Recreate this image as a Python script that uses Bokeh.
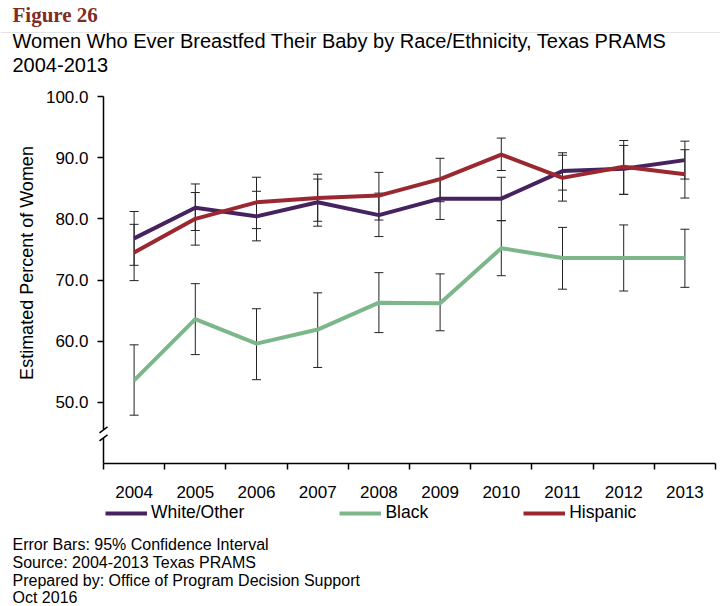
from bokeh.plotting import figure
from bokeh.models import (ColumnDataSource, Range1d, FixedTicker, NumeralTickFormatter,
                          Whisker, TeeHead, Legend, LegendItem, Label, Arrow, Span)
from bokeh.embed import file_html
from bokeh.resources import INLINE

# ---------------- data ----------------
years = [2004, 2005, 2006, 2007, 2008, 2009, 2010, 2011, 2012, 2013]
year_labels = ["2004", "2005", "2006", "2007", "2008", "2009", "2010", "2011", "2012", "2013"]

white = [76.8, 81.8, 80.4, 82.7, 80.6, 83.3, 83.3, 87.8, 88.2, 89.6]
white_lo = [72.4, 78.1, 76.4, 78.8, 77.1, 79.9, 79.7, 84.7, 84.0, 86.5]
white_hi = [81.2, 85.7, 84.5, 86.5, 84.2, 86.6, 86.8, 90.8, 92.0, 92.7]

black = [53.6, 63.6, 59.6, 61.9, 66.3, 66.2, 75.2, 73.6, 73.6, 73.6]
black_lo = [47.9, 57.8, 53.7, 55.7, 61.4, 61.7, 70.7, 68.5, 68.2, 68.8]
black_hi = [59.4, 69.4, 65.3, 67.9, 71.2, 71.0, 79.7, 78.6, 79.0, 78.3]

hispanic = [74.5, 80.0, 82.7, 83.4, 83.8, 86.5, 90.5, 86.7, 88.5, 87.3]
hispanic_lo = [69.9, 75.7, 78.4, 79.6, 79.8, 82.8, 87.9, 82.9, 84.0, 83.4]
hispanic_hi = [79.1, 84.3, 86.8, 87.3, 87.6, 89.9, 93.2, 90.4, 92.8, 91.3]

y_ticks = [50, 60, 70, 80, 90, 100]

# ---------------- layout constants (pixels) ----------------
W, H = 720, 606
FL, FT, FB, FR = 103, 96, 143, 5          # plot-area margins inside the canvas
AREA_W = W - FL - FR
AREA_H = H - FT - FB
X0, X1 = years[0] - 0.5, years[-1] + 0.5
Y0, Y1 = 40, 100
BREAK_TOP, BREAK_BOTTOM = 45.5, 44.2

ppx = AREA_W / (X1 - X0)   # pixels per year
ppy = AREA_H / (Y1 - Y0)   # pixels per percent

PURPLE = "#46235f"
GREEN = "#7cb78b"
RED = "#9b2830"
BROWN = "#7e2d1e"
SANS = "Liberation Sans"

p = figure(width=W, height=H, output_backend="svg", toolbar_location=None,
           x_range=Range1d(X0 - FL / ppx, X1 + FR / ppx),
           y_range=Range1d(Y0 - FB / ppy, Y1 + FT / ppy),
           min_border=0)
p.outline_line_color = None
p.grid.visible = False
p.background_fill_color = "white"
p.border_fill_color = "white"

src = ColumnDataSource(dict(year=years, white=white, white_lo=white_lo, white_hi=white_hi,
                            black=black, black_lo=black_lo, black_hi=black_hi,
                            hispanic=hispanic, hispanic_lo=hispanic_lo, hispanic_hi=hispanic_hi))

# thin rule under the figure number
p.add_layout(Span(location=Y1 + (FT - 32) / ppy, dimension="width",
                  line_color="#e4e4e4", line_width=1))

# error bars
for lo, hi in [("white_lo", "white_hi"), ("black_lo", "black_hi"), ("hispanic_lo", "hispanic_hi")]:
    w = Whisker(source=src, base="year", lower=lo, upper=hi, line_color="#222222", line_width=1,
                upper_head=TeeHead(size=9, line_color="#222222", line_width=1),
                lower_head=TeeHead(size=9, line_color="#222222", line_width=1))
    p.add_layout(w)

r_black = p.line("year", "black", source=src, line_color=GREEN, line_width=4)
r_white = p.line("year", "white", source=src, line_color=PURPLE, line_width=4)
r_hisp = p.line("year", "hispanic", source=src, line_color=RED, line_width=4)

# x axis
xa = p.xaxis[0]
xa.fixed_location = Y0
xa.bounds = (X0, X1)
xa.ticker = FixedTicker(ticks=years, minor_ticks=[y - 0.5 for y in years] + [years[-1] + 0.5])
xa.major_label_overrides = {y: l for y, l in zip(years, year_labels)}
xa.major_tick_out = 0
xa.major_tick_in = 0
xa.minor_tick_out = 6
xa.minor_tick_in = 0
xa.minor_tick_line_color = "black"
xa.minor_tick_line_width = 1.5
xa.axis_line_color = "black"
xa.axis_line_width = 1.5
xa.major_label_standoff = 16
xa.major_label_text_font = SANS
xa.major_label_text_font_size = "17px"
xa.major_label_text_color = "black"

# y axis
ya = p.yaxis[0]
ya.fixed_location = X0
ya.ticker = FixedTicker(ticks=y_ticks)
ya.formatter = NumeralTickFormatter(format="0.0")
ya.bounds = (BREAK_TOP, Y1)
ya.major_tick_out = 6
ya.major_tick_in = 0
ya.major_tick_line_width = 1.5
ya.minor_tick_line_color = None
ya.axis_line_color = "black"
ya.axis_line_width = 1.5
ya.major_label_standoff = 9
ya.major_label_text_font = SANS
ya.major_label_text_font_size = "17px"
ya.major_label_text_color = "black"
ya.axis_label = "Estimated Percent of Women"
ya.axis_label_text_font = SANS
ya.axis_label_text_font_size = "18px"
ya.axis_label_text_font_style = "normal"
ya.axis_label_text_color = "black"
ya.axis_label_standoff = 6

# axis break: lower stub of the y axis and two slashes
p.add_layout(Arrow(end=None, x_start=X0, y_start=Y0, x_end=X0, y_end=BREAK_BOTTOM,
                   line_color="black", line_width=1.5))
for yb in (BREAK_TOP, BREAK_BOTTOM):
    p.add_layout(Arrow(end=None, x_start=X0 - 4 / ppx, y_start=yb - 3 / ppy,
                       x_end=X0 + 4 / ppx, y_end=yb + 3 / ppy,
                       line_color="black", line_width=1.5))

# legend (frame covers the whole canvas, so screen units = canvas pixels from bottom-left)
legend = Legend(items=[LegendItem(label="White/Other", renderers=[r_white]),
                       LegendItem(label="Black", renderers=[r_black]),
                       LegendItem(label="Hispanic", renderers=[r_hisp])],
                orientation="horizontal", location=(FL + 2, H - 523), spacing=95,
                glyph_width=42, glyph_height=20, label_height=20, label_standoff=4,
                label_text_font=SANS, label_text_font_size="17.5px", label_text_color="black",
                padding=5, margin=0, border_line_color=None, background_fill_alpha=0)
p.add_layout(legend, "center")


def text_at(txt, cx, cy, size, font=SANS, color="black", style="normal"):
    p.add_layout(Label(x=cx, y=H - cy, x_units="screen", y_units="screen",
                       text=txt, text_font=font, text_font_size=size, text_color=color,
                       text_font_style=style, text_baseline="middle", text_align="left"))


text_at("Figure 26", 12, 14, "21px", font="Liberation Serif", color=BROWN, style="bold")
text_at("Women Who Ever Breastfed Their Baby by Race/Ethnicity, Texas PRAMS", 12, 40, "20px")
text_at("2004-2013", 12, 64, "20px")
text_at("Error Bars: 95% Confidence Interval", 12, 544, "16px")
text_at("Source: 2004-2013 Texas PRAMS", 12, 562, "16px")
text_at("Prepared by: Office of Program Decision Support", 12, 580, "16px")
text_at("Oct 2016", 12, 597, "16px")

open("out.html", "w").write(file_html(p, INLINE))
